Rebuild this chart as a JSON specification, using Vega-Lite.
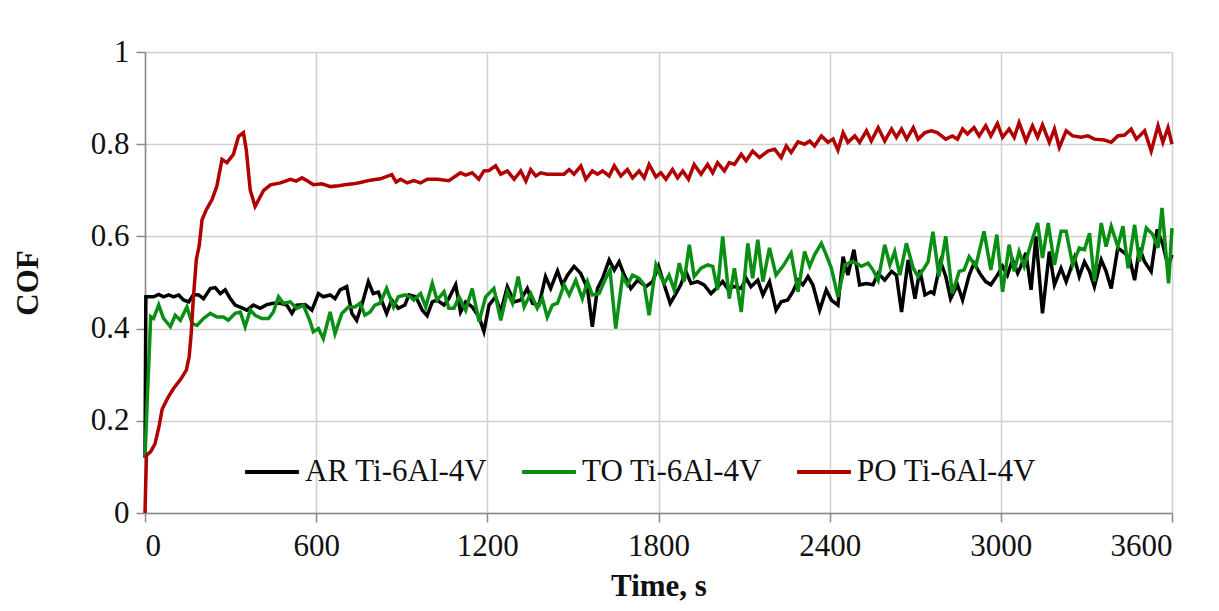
{
  "$schema": "https://vega.github.io/schema/vega-lite/v6.json",
  "autosize": {"type": "none"},
  "padding": {"left": 145, "top": 52, "right": 47, "bottom": 98},
  "width": 1027,
  "height": 461,
  "background": "white",
  "datasets": {
    "AR": [{"t":0,"v":0.12},{"t":3,"v":0.469},{"t":30,"v":0.469},{"t":48,"v":0.474},{"t":65,"v":0.469},{"t":83,"v":0.473},{"t":100,"v":0.469},{"t":118,"v":0.473},{"t":135,"v":0.462},{"t":153,"v":0.458},{"t":170,"v":0.474},{"t":188,"v":0.473},{"t":205,"v":0.465},{"t":229,"v":0.487},{"t":246,"v":0.489},{"t":264,"v":0.476},{"t":281,"v":0.484},{"t":299,"v":0.465},{"t":316,"v":0.451},{"t":340,"v":0.445},{"t":357,"v":0.44},{"t":380,"v":0.451},{"t":404,"v":0.444},{"t":427,"v":0.452},{"t":450,"v":0.455},{"t":474,"v":0.455},{"t":497,"v":0.451},{"t":515,"v":0.433},{"t":532,"v":0.451},{"t":561,"v":0.452},{"t":585,"v":0.44},{"t":608,"v":0.476},{"t":625,"v":0.469},{"t":649,"v":0.473},{"t":666,"v":0.465},{"t":684,"v":0.484},{"t":707,"v":0.491},{"t":725,"v":0.433},{"t":742,"v":0.418},{"t":760,"v":0.451},{"t":783,"v":0.502},{"t":800,"v":0.476},{"t":818,"v":0.479},{"t":833,"v":0.455},{"t":847,"v":0.433},{"t":865,"v":0.462},{"t":888,"v":0.444},{"t":911,"v":0.451},{"t":925,"v":0.473},{"t":949,"v":0.469},{"t":972,"v":0.44},{"t":989,"v":0.428},{"t":1007,"v":0.458},{"t":1024,"v":0.462},{"t":1048,"v":0.451},{"t":1065,"v":0.465},{"t":1089,"v":0.495},{"t":1106,"v":0.436},{"t":1124,"v":0.458},{"t":1147,"v":0.447},{"t":1171,"v":0.425},{"t":1188,"v":0.394},{"t":1206,"v":0.451},{"t":1229,"v":0.469},{"t":1247,"v":0.436},{"t":1270,"v":0.491},{"t":1294,"v":0.458},{"t":1317,"v":0.462},{"t":1340,"v":0.487},{"t":1358,"v":0.455},{"t":1381,"v":0.451},{"t":1404,"v":0.513},{"t":1422,"v":0.487},{"t":1446,"v":0.525},{"t":1463,"v":0.495},{"t":1481,"v":0.516},{"t":1504,"v":0.535},{"t":1527,"v":0.52},{"t":1551,"v":0.487},{"t":1568,"v":0.404},{"t":1586,"v":0.487},{"t":1604,"v":0.509},{"t":1627,"v":0.549},{"t":1645,"v":0.527},{"t":1662,"v":0.545},{"t":1680,"v":0.516},{"t":1703,"v":0.487},{"t":1727,"v":0.505},{"t":1756,"v":0.491},{"t":1779,"v":0.502},{"t":1800,"v":0.535},{"t":1820,"v":0.495},{"t":1841,"v":0.455},{"t":1861,"v":0.476},{"t":1878,"v":0.495},{"t":1896,"v":0.524},{"t":1914,"v":0.498},{"t":1937,"v":0.502},{"t":1960,"v":0.495},{"t":1984,"v":0.476},{"t":2002,"v":0.487},{"t":2025,"v":0.502},{"t":2042,"v":0.487},{"t":2066,"v":0.491},{"t":2090,"v":0.487},{"t":2107,"v":0.509},{"t":2124,"v":0.491},{"t":2148,"v":0.505},{"t":2166,"v":0.473},{"t":2189,"v":0.502},{"t":2212,"v":0.44},{"t":2230,"v":0.458},{"t":2253,"v":0.462},{"t":2271,"v":0.48},{"t":2289,"v":0.505},{"t":2306,"v":0.495},{"t":2324,"v":0.513},{"t":2341,"v":0.495},{"t":2365,"v":0.44},{"t":2388,"v":0.484},{"t":2406,"v":0.462},{"t":2429,"v":0.451},{"t":2447,"v":0.556},{"t":2464,"v":0.516},{"t":2485,"v":0.571},{"t":2505,"v":0.495},{"t":2529,"v":0.498},{"t":2552,"v":0.495},{"t":2570,"v":0.52},{"t":2593,"v":0.505},{"t":2617,"v":0.524},{"t":2634,"v":0.516},{"t":2652,"v":0.436},{"t":2675,"v":0.549},{"t":2699,"v":0.465},{"t":2716,"v":0.527},{"t":2734,"v":0.473},{"t":2755,"v":0.48},{"t":2765,"v":0.476},{"t":2789,"v":0.545},{"t":2807,"v":0.513},{"t":2824,"v":0.465},{"t":2848,"v":0.495},{"t":2866,"v":0.462},{"t":2889,"v":0.516},{"t":2906,"v":0.542},{"t":2930,"v":0.516},{"t":2947,"v":0.502},{"t":2965,"v":0.495},{"t":2988,"v":0.516},{"t":3006,"v":0.535},{"t":3023,"v":0.516},{"t":3041,"v":0.549},{"t":3059,"v":0.52},{"t":3070,"v":0.535},{"t":3088,"v":0.564},{"t":3106,"v":0.484},{"t":3123,"v":0.6},{"t":3146,"v":0.433},{"t":3170,"v":0.567},{"t":3188,"v":0.495},{"t":3211,"v":0.531},{"t":3229,"v":0.502},{"t":3258,"v":0.553},{"t":3275,"v":0.513},{"t":3293,"v":0.545},{"t":3311,"v":0.524},{"t":3328,"v":0.491},{"t":3352,"v":0.549},{"t":3369,"v":0.524},{"t":3387,"v":0.487},{"t":3410,"v":0.575},{"t":3434,"v":0.564},{"t":3451,"v":0.553},{"t":3469,"v":0.505},{"t":3486,"v":0.575},{"t":3504,"v":0.545},{"t":3527,"v":0.524},{"t":3548,"v":0.615},{"t":3568,"v":0.582},{"t":3586,"v":0.535},{"t":3600,"v":0.56}],
    "TO": [{"t":0,"v":0.12},{"t":5,"v":0.2},{"t":20,"v":0.426},{"t":30,"v":0.422},{"t":48,"v":0.451},{"t":65,"v":0.422},{"t":89,"v":0.404},{"t":106,"v":0.429},{"t":124,"v":0.418},{"t":147,"v":0.447},{"t":165,"v":0.411},{"t":182,"v":0.407},{"t":205,"v":0.422},{"t":229,"v":0.433},{"t":252,"v":0.425},{"t":275,"v":0.425},{"t":292,"v":0.418},{"t":316,"v":0.433},{"t":334,"v":0.436},{"t":351,"v":0.404},{"t":369,"v":0.44},{"t":386,"v":0.429},{"t":410,"v":0.422},{"t":433,"v":0.422},{"t":450,"v":0.436},{"t":468,"v":0.469},{"t":485,"v":0.455},{"t":509,"v":0.458},{"t":532,"v":0.444},{"t":555,"v":0.451},{"t":579,"v":0.415},{"t":590,"v":0.393},{"t":608,"v":0.4},{"t":625,"v":0.378},{"t":649,"v":0.436},{"t":666,"v":0.389},{"t":690,"v":0.433},{"t":713,"v":0.447},{"t":736,"v":0.447},{"t":754,"v":0.455},{"t":771,"v":0.429},{"t":789,"v":0.436},{"t":806,"v":0.451},{"t":824,"v":0.455},{"t":847,"v":0.487},{"t":871,"v":0.447},{"t":888,"v":0.469},{"t":911,"v":0.473},{"t":930,"v":0.469},{"t":942,"v":0.462},{"t":966,"v":0.476},{"t":984,"v":0.447},{"t":1007,"v":0.498},{"t":1024,"v":0.462},{"t":1048,"v":0.48},{"t":1065,"v":0.444},{"t":1083,"v":0.444},{"t":1101,"v":0.469},{"t":1124,"v":0.44},{"t":1147,"v":0.487},{"t":1171,"v":0.415},{"t":1194,"v":0.469},{"t":1223,"v":0.487},{"t":1247,"v":0.418},{"t":1270,"v":0.48},{"t":1288,"v":0.455},{"t":1308,"v":0.513},{"t":1329,"v":0.447},{"t":1352,"v":0.476},{"t":1375,"v":0.444},{"t":1393,"v":0.465},{"t":1410,"v":0.425},{"t":1428,"v":0.451},{"t":1446,"v":0.455},{"t":1469,"v":0.495},{"t":1487,"v":0.473},{"t":1510,"v":0.505},{"t":1533,"v":0.465},{"t":1551,"v":0.502},{"t":1568,"v":0.473},{"t":1592,"v":0.476},{"t":1615,"v":0.509},{"t":1630,"v":0.527},{"t":1650,"v":0.4},{"t":1674,"v":0.513},{"t":1691,"v":0.495},{"t":1709,"v":0.516},{"t":1732,"v":0.509},{"t":1750,"v":0.495},{"t":1767,"v":0.429},{"t":1791,"v":0.538},{"t":1808,"v":0.513},{"t":1820,"v":0.498},{"t":1837,"v":0.516},{"t":1855,"v":0.484},{"t":1873,"v":0.542},{"t":1890,"v":0.502},{"t":1908,"v":0.582},{"t":1925,"v":0.513},{"t":1949,"v":0.531},{"t":1972,"v":0.538},{"t":1990,"v":0.535},{"t":2007,"v":0.484},{"t":2025,"v":0.6},{"t":2048,"v":0.465},{"t":2066,"v":0.531},{"t":2090,"v":0.436},{"t":2113,"v":0.585},{"t":2130,"v":0.509},{"t":2148,"v":0.593},{"t":2166,"v":0.502},{"t":2189,"v":0.575},{"t":2212,"v":0.516},{"t":2236,"v":0.535},{"t":2265,"v":0.564},{"t":2289,"v":0.48},{"t":2312,"v":0.567},{"t":2330,"v":0.535},{"t":2347,"v":0.56},{"t":2371,"v":0.585},{"t":2388,"v":0.56},{"t":2406,"v":0.531},{"t":2429,"v":0.469},{"t":2453,"v":0.538},{"t":2476,"v":0.545},{"t":2494,"v":0.542},{"t":2511,"v":0.535},{"t":2535,"v":0.542},{"t":2552,"v":0.527},{"t":2570,"v":0.505},{"t":2593,"v":0.582},{"t":2611,"v":0.538},{"t":2628,"v":0.567},{"t":2646,"v":0.516},{"t":2669,"v":0.585},{"t":2693,"v":0.531},{"t":2710,"v":0.513},{"t":2730,"v":0.53},{"t":2745,"v":0.545},{"t":2762,"v":0.61},{"t":2783,"v":0.513},{"t":2807,"v":0.6},{"t":2830,"v":0.476},{"t":2854,"v":0.524},{"t":2871,"v":0.527},{"t":2889,"v":0.556},{"t":2912,"v":0.535},{"t":2941,"v":0.611},{"t":2965,"v":0.527},{"t":2986,"v":0.604},{"t":3006,"v":0.48},{"t":3029,"v":0.582},{"t":3047,"v":0.524},{"t":3064,"v":0.567},{"t":3082,"v":0.535},{"t":3106,"v":0.585},{"t":3129,"v":0.629},{"t":3146,"v":0.553},{"t":3166,"v":0.629},{"t":3188,"v":0.538},{"t":3211,"v":0.611},{"t":3229,"v":0.611},{"t":3252,"v":0.538},{"t":3275,"v":0.575},{"t":3293,"v":0.571},{"t":3311,"v":0.607},{"t":3328,"v":0.502},{"t":3352,"v":0.629},{"t":3369,"v":0.578},{"t":3387,"v":0.622},{"t":3410,"v":0.578},{"t":3428,"v":0.622},{"t":3446,"v":0.531},{"t":3469,"v":0.625},{"t":3486,"v":0.545},{"t":3510,"v":0.618},{"t":3533,"v":0.604},{"t":3551,"v":0.575},{"t":3565,"v":0.662},{"t":3588,"v":0.498},{"t":3600,"v":0.618}],
    "PO": [{"t":0,"v":0},{"t":5,"v":0.125},{"t":20,"v":0.133},{"t":35,"v":0.15},{"t":50,"v":0.19},{"t":60,"v":0.225},{"t":80,"v":0.25},{"t":100,"v":0.27},{"t":125,"v":0.29},{"t":145,"v":0.31},{"t":155,"v":0.34},{"t":162,"v":0.39},{"t":170,"v":0.47},{"t":180,"v":0.55},{"t":190,"v":0.58},{"t":200,"v":0.636},{"t":215,"v":0.658},{"t":235,"v":0.68},{"t":252,"v":0.709},{"t":270,"v":0.767},{"t":287,"v":0.76},{"t":310,"v":0.778},{"t":328,"v":0.817},{"t":345,"v":0.825},{"t":355,"v":0.788},{"t":369,"v":0.7},{"t":386,"v":0.665},{"t":416,"v":0.7},{"t":440,"v":0.712},{"t":475,"v":0.716},{"t":510,"v":0.724},{"t":530,"v":0.72},{"t":550,"v":0.727},{"t":570,"v":0.72},{"t":590,"v":0.712},{"t":620,"v":0.714},{"t":650,"v":0.708},{"t":680,"v":0.71},{"t":700,"v":0.712},{"t":730,"v":0.714},{"t":755,"v":0.717},{"t":790,"v":0.722},{"t":825,"v":0.725},{"t":865,"v":0.734},{"t":880,"v":0.718},{"t":896,"v":0.724},{"t":919,"v":0.716},{"t":942,"v":0.721},{"t":966,"v":0.716},{"t":989,"v":0.724},{"t":1025,"v":0.724},{"t":1065,"v":0.721},{"t":1106,"v":0.738},{"t":1124,"v":0.733},{"t":1147,"v":0.738},{"t":1170,"v":0.724},{"t":1188,"v":0.742},{"t":1206,"v":0.743},{"t":1229,"v":0.753},{"t":1247,"v":0.735},{"t":1270,"v":0.742},{"t":1294,"v":0.724},{"t":1317,"v":0.742},{"t":1335,"v":0.72},{"t":1352,"v":0.745},{"t":1370,"v":0.731},{"t":1387,"v":0.738},{"t":1410,"v":0.735},{"t":1469,"v":0.735},{"t":1487,"v":0.745},{"t":1504,"v":0.735},{"t":1528,"v":0.753},{"t":1545,"v":0.724},{"t":1568,"v":0.742},{"t":1586,"v":0.735},{"t":1604,"v":0.742},{"t":1627,"v":0.731},{"t":1645,"v":0.753},{"t":1668,"v":0.731},{"t":1691,"v":0.745},{"t":1709,"v":0.727},{"t":1732,"v":0.742},{"t":1750,"v":0.727},{"t":1767,"v":0.756},{"t":1791,"v":0.729},{"t":1808,"v":0.738},{"t":1826,"v":0.724},{"t":1849,"v":0.745},{"t":1867,"v":0.727},{"t":1885,"v":0.742},{"t":1905,"v":0.724},{"t":1925,"v":0.756},{"t":1949,"v":0.735},{"t":1972,"v":0.756},{"t":1990,"v":0.738},{"t":2007,"v":0.76},{"t":2031,"v":0.742},{"t":2048,"v":0.76},{"t":2066,"v":0.756},{"t":2090,"v":0.778},{"t":2107,"v":0.764},{"t":2130,"v":0.785},{"t":2154,"v":0.771},{"t":2183,"v":0.785},{"t":2207,"v":0.789},{"t":2230,"v":0.771},{"t":2248,"v":0.796},{"t":2265,"v":0.782},{"t":2289,"v":0.805},{"t":2312,"v":0.8},{"t":2330,"v":0.807},{"t":2347,"v":0.796},{"t":2371,"v":0.818},{"t":2394,"v":0.804},{"t":2412,"v":0.811},{"t":2429,"v":0.787},{"t":2447,"v":0.825},{"t":2464,"v":0.804},{"t":2488,"v":0.818},{"t":2505,"v":0.804},{"t":2529,"v":0.829},{"t":2546,"v":0.807},{"t":2570,"v":0.836},{"t":2593,"v":0.807},{"t":2617,"v":0.833},{"t":2634,"v":0.815},{"t":2652,"v":0.833},{"t":2670,"v":0.811},{"t":2693,"v":0.836},{"t":2710,"v":0.811},{"t":2734,"v":0.825},{"t":2757,"v":0.829},{"t":2777,"v":0.825},{"t":2807,"v":0.811},{"t":2830,"v":0.818},{"t":2848,"v":0.811},{"t":2866,"v":0.833},{"t":2883,"v":0.822},{"t":2906,"v":0.836},{"t":2924,"v":0.818},{"t":2947,"v":0.84},{"t":2965,"v":0.818},{"t":2988,"v":0.845},{"t":3006,"v":0.815},{"t":3029,"v":0.833},{"t":3047,"v":0.815},{"t":3064,"v":0.847},{"t":3088,"v":0.807},{"t":3111,"v":0.84},{"t":3129,"v":0.815},{"t":3146,"v":0.842},{"t":3170,"v":0.804},{"t":3188,"v":0.833},{"t":3205,"v":0.793},{"t":3229,"v":0.829},{"t":3252,"v":0.818},{"t":3281,"v":0.815},{"t":3305,"v":0.818},{"t":3328,"v":0.811},{"t":3363,"v":0.809},{"t":3387,"v":0.804},{"t":3410,"v":0.818},{"t":3434,"v":0.82},{"t":3457,"v":0.833},{"t":3475,"v":0.811},{"t":3504,"v":0.829},{"t":3527,"v":0.785},{"t":3551,"v":0.84},{"t":3568,"v":0.804},{"t":3586,"v":0.836},{"t":3600,"v":0.8}]
  },
  "encoding": {
    "x": {"field": "t", "type": "quantitative",
      "scale": {"domain": [0, 3600], "nice": false, "zero": false},
      "axis": {"values": [0, 600, 1200, 1800, 2400, 3000, 3600], "format": "d", "title": "Time, s", "titlePadding": 10, "labelPadding": 9}},
    "y": {"field": "v", "type": "quantitative",
      "scale": {"domain": [0, 1], "nice": false},
      "axis": {"values": [0, 0.2, 0.4, 0.6, 0.8, 1], "format": "~g", "title": "COF", "titlePadding": 46, "labelPadding": 7}},
    "color": {
      "scale": {"domain": ["AR Ti-6Al-4V", "TO Ti-6Al-4V", "PO Ti-6Al-4V"], "range": ["#000000", "#0a8f14", "#b00000"]},
      "legend": {"title": null, "orient": "none", "legendX": 98, "legendY": 391, "direction": "horizontal",
        "symbolType": "stroke", "symbolSize": 2900, "symbolStrokeWidth": 4, "labelFontSize": 31, "labelFont": "Liberation Serif",
        "labelColor": "#111111", "labelOffset": 4, "columnPadding": 26, "padding": 0, "labelLimit": 400}
    }
  },
  "layer": [
    {"data": {"name": "AR"}, "mark": {"type": "line", "strokeWidth": 3.5, "interpolate": "linear"}, "encoding": {"color": {"datum": "AR Ti-6Al-4V"}}},
    {"data": {"name": "TO"}, "mark": {"type": "line", "strokeWidth": 3.5, "interpolate": "linear"}, "encoding": {"color": {"datum": "TO Ti-6Al-4V"}}},
    {"data": {"name": "PO"}, "mark": {"type": "line", "strokeWidth": 3.5, "interpolate": "linear"}, "encoding": {"color": {"datum": "PO Ti-6Al-4V"}}}
  ],
  "config": {
    "font": "Liberation Serif",
    "view": {"stroke": null},
    "axis": {
      "labelFont": "Liberation Serif", "labelFontSize": 31, "labelColor": "#111111",
      "titleFont": "Liberation Serif", "titleFontSize": 31, "titleFontWeight": "bold", "titleColor": "#111111",
      "gridColor": "#d0d0d0", "gridWidth": 1.5, "domainColor": "#8a8a8a", "domainWidth": 1.5,
      "tickColor": "#8a8a8a", "tickWidth": 1.5, "tickSize": 9
    }
  }
}
